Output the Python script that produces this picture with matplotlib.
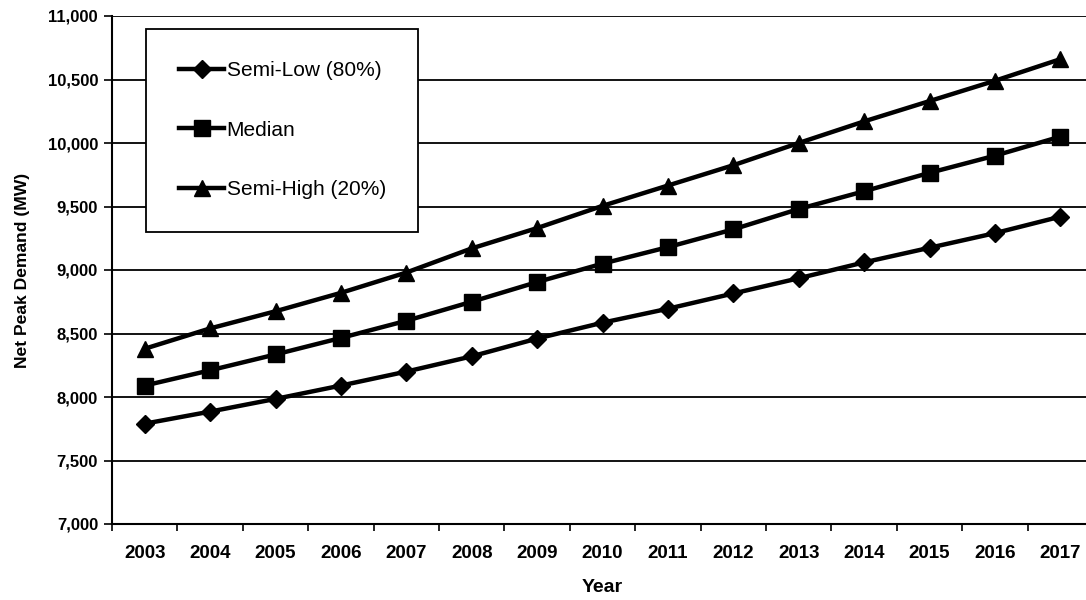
import matplotlib
matplotlib.use("Agg")
import matplotlib.pyplot as plt
import numpy as np

plt.rcParams['font.family'] = ['Liberation Sans', 'DejaVu Sans']

# Prévisions de pointe nette (MW)
years = [2003, 2004, 2005, 2006, 2007, 2008, 2009, 2010,
         2011, 2012, 2013, 2014, 2015, 2016, 2017]
semi_low = [7790, 7885, 7985, 8090, 8200, 8320, 8460, 8585,
            8695, 8815, 8935, 9060, 9175, 9290, 9420]
median = [8090, 8210, 8335, 8465, 8600, 8750, 8905, 9050,
          9180, 9320, 9480, 9620, 9765, 9900, 10050]
semi_high = [8380, 8540, 8675, 8820, 8980, 9170, 9330, 9505,
             9665, 9825, 10000, 10170, 10330, 10490, 10660]

series = [
    ("Semi-Low (80%)", semi_low, 'D', 9.5),
    ("Median", median, 's', 12),
    ("Semi-High (20%)", semi_high, '^', 11),
]

fig = plt.figure(figsize=(10.86, 6.0), dpi=100)
ax = fig.add_axes([112 / 1086, 1 - 524 / 600, 981 / 1086, 508 / 600])

x = np.arange(len(years))
for label, values, marker, ms in series:
    ax.plot(x, values, color='black', linewidth=3.2, marker=marker,
            markersize=ms, markerfacecolor='black', markeredgecolor='black',
            label=label, solid_joinstyle='round')

ax.set_ylim(7000, 11000)
ax.set_xlim(-0.5, len(years) - 0.5)
ax.set_yticks(np.arange(7000, 11001, 500))
ax.set_yticklabels([f"{v:,}" for v in range(7000, 11001, 500)],
                   fontsize=12, fontweight='bold')
ax.set_xticks(x)
ax.set_xticklabels([str(y) for y in years], fontsize=13.5, fontweight='bold')
ax.set_xticks(np.arange(-0.5, len(years)), minor=True)
ax.tick_params(axis='x', which='major', length=0, pad=15)
ax.tick_params(axis='x', which='minor', length=5, width=1.2, direction='out')
ax.tick_params(axis='y', length=6, width=1.2, pad=4)

ax.grid(axis='y', color='black', linewidth=1.3)
ax.set_axisbelow(True)
for side in ['left', 'bottom']:
    ax.spines[side].set_linewidth(1.5)
ax.spines['top'].set_visible(False)
ax.spines['right'].set_visible(False)

ax.set_xlabel("Year", fontsize=14, fontweight='bold', labelpad=12)
ax.set_ylabel("Net Peak Demand (MW)", fontsize=12.6, fontweight='bold', labelpad=13)

leg = ax.legend(loc='upper left', bbox_to_anchor=(0.035, 0.975),
                fontsize=15, numpoints=1, handlelength=2.2,
                handletextpad=0.1, labelspacing=1.95, borderpad=1.55,
                fancybox=False, frameon=True, borderaxespad=0)
leg.get_frame().set_edgecolor('black')
leg.get_frame().set_linewidth(1.3)
leg.get_frame().set_alpha(1)

fig.savefig("out.png", dpi=100)
